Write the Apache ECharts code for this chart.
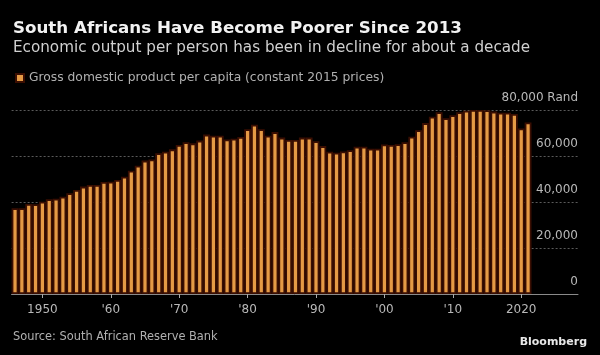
<!DOCTYPE html>
<html>
<head>
<meta charset="utf-8">
<script src="https://cdn.jsdelivr.net/npm/echarts@6/dist/echarts.min.js"></script>
<style>
html,body{margin:0;padding:0;background:#000;}
#chart{width:600px;height:355px;}
</style>
</head>
<body>
<div id="chart"></div>
<script>
var years = [1946,1947,1948,1949,1950,1951,1952,1953,1954,1955,1956,1957,1958,1959,1960,1961,1962,1963,1964,1965,1966,1967,1968,1969,1970,1971,1972,1973,1974,1975,1976,1977,1978,1979,1980,1981,1982,1983,1984,1985,1986,1987,1988,1989,1990,1991,1992,1993,1994,1995,1996,1997,1998,1999,2000,2001,2002,2003,2004,2005,2006,2007,2008,2009,2010,2011,2012,2013,2014,2015,2016,2017,2018,2019,2020,2021];
var gdpPerCapita = [37300,37300,39100,39000,40100,41200,41400,42300,43800,45200,46700,47400,47400,48700,48800,49600,51000,53600,55800,58000,58500,61200,61900,62900,64800,66000,65500,66700,69300,68800,68800,67200,67500,68300,71600,73600,71600,68800,70400,68000,67000,67000,68000,68000,66400,64300,61900,61400,62000,62500,64000,64000,63200,63200,65000,64800,65100,66000,68400,71200,74300,77100,79000,76400,77700,79000,79700,80000,80000,79900,79300,78800,78800,78300,72000,74600];
var xTickYears = [1950,1960,1970,1980,1990,2000,2010,2020];
var xTickLabels = ['1950',"'60","'70","'80","'90","'00","'10",'2020'];
var yTicks = [0,20000,40000,60000,80000];
var yTickLabels = ['0','20,000','40,000','60,000','80,000 Rand'];
var seriesName = 'Gross domestic product per capita (constant 2015 prices)';
var titleText = 'South Africans Have Become Poorer Since 2013';
var subtitleText = 'Economic output per person has been in decline for about a decade';
var sourceText = 'Source: South African Reserve Bank';

var FONT = 'DejaVu Sans';
var chart = echarts.init(document.getElementById('chart'), null, {renderer:'canvas'});
var data = years.map(function(y,i){return [y, gdpPerCapita[i]];});
chart.setOption({
  backgroundColor:'#000',
  animation:false,
  title:[
    {text:titleText, left:13, top:20, padding:0,
     textStyle:{color:'#f2f2f2', fontFamily:FONT, fontWeight:'bold', fontSize:16.7}},
    {text:subtitleText, left:13, top:41, padding:0,
     textStyle:{color:'#d0d0d0', fontFamily:FONT, fontWeight:'normal', fontSize:15.2}}
  ],
  legend:{
    left:15, top:72, padding:0, itemWidth:8, itemHeight:8, itemGap:5,
    icon:'rect',
    textStyle:{color:'#b0b0b0', fontFamily:FONT, fontSize:12.3, padding:[0,0,0,0]},
    data:[seriesName]
  },
  grid:{left:11.6, right:22, top:110, bottom:61, containLabel:false},
  xAxis:{
    type:'value', min:1945.5, max:2028.3,
    splitLine:{show:false},
    axisLine:{show:true, lineStyle:{color:'#8a8a8a', width:1}},
    axisTick:{show:true, length:4, lineStyle:{color:'#aaaaaa'}, customValues:xTickYears},
    axisLabel:{color:'#b8b8b8', fontFamily:FONT, fontSize:12, margin:10,
      customValues:xTickYears,
      formatter:function(v){var i=xTickYears.indexOf(Math.round(v));return i>=0?xTickLabels[i]:'';}}
  },
  yAxis:{
    type:'value', position:'right', min:0, max:80000, interval:20000,
    axisLine:{show:false}, axisTick:{show:false},
    splitLine:{show:true, lineStyle:{color:'#5a5a5a', type:[2,2], width:1}},
    axisLabel:{inside:true, margin:0, color:'#b8b8b8', fontFamily:FONT, fontSize:12,
      verticalAlign:'bottom', padding:[0,0,6,0],
      formatter:function(v){var i=yTicks.indexOf(v);return i>=0?yTickLabels[i]:'';}}
  },
  series:[{
    name:seriesName, type:'bar', data:data, barWidth:6.84,
    itemStyle:{color:'#e59a45', borderColor:'#3a0e02', borderWidth:1.8}
  }],
  graphic:[
    {type:'text', left:13, top:332, style:{text:sourceText, fill:'#b0b0b0', font:'11.4px "DejaVu Sans"'}},
    {type:'text', right:13, top:337, style:{text:'Bloomberg', fill:'#e8e8e8', font:'bold 11px "DejaVu Sans"'}}
  ]
});
</script>
</body>
</html>
